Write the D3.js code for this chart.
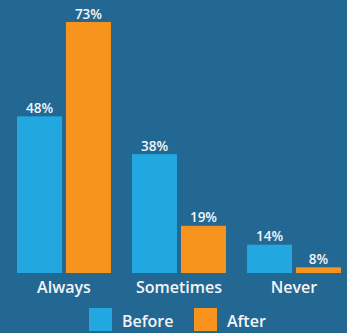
<!DOCTYPE html>
<html>
<head>
<meta charset="utf-8">
<script src="https://cdn.jsdelivr.net/npm/d3@7"></script>
<style>
  html, body { margin: 0; padding: 0; background: #236893; }
  svg { display: block; }
  text { font-family: "Open Sans", sans-serif; fill: #f2f5f8; }
</style>
</head>
<body>
<div id="chart"></div>
<script>
let width = 347, height = 333;

let categories = ["Always", "Sometimes", "Never"];
let series = ["Before", "After"];
let before = [48, 38, 14];
let after = [73, 19, 8];
let colors = ["#22a7e0", "#f7941d"];

let rows = categories.map(function(c, i) {
    return {cat: c, values: [before[i], after[i]]};
});

let svg = d3.select("#chart")
    .append("svg")
    .attr("width", width)
    .attr("height", height);

svg.append("rect")
    .attr("width", width)
    .attr("height", height)
    .attr("fill", "#236893");

let xScale = d3.scaleBand()
    .domain(categories)
    .range([17, 341])
    .paddingInner(0.183)
    .paddingOuter(0);

let xSub = d3.scaleBand()
    .domain(series)
    .range([0, xScale.bandwidth()])
    .paddingInner(0.08);

let yScale = d3.scaleLinear()
    .domain([6.5, 73])
    .range([273, 22]);

let groups = svg.selectAll(".group")
    .data(rows)
    .enter()
    .append("g")
    .attr("class", "group")
    .attr("transform", function(d) { return `translate(${xScale(d.cat)},0)`; });

let cells = groups.selectAll(".cell")
    .data(function(d) {
        return d.values.map(function(v, i) { return {s: series[i], v: v, i: i}; });
    })
    .enter()
    .append("g");

cells.append("rect")
    .attr("x", function(d) { return xSub(d.s); })
    .attr("y", function(d) { return yScale(d.v); })
    .attr("width", xSub.bandwidth())
    .attr("height", function(d) { return yScale.range()[0] - yScale(d.v); })
    .attr("fill", function(d) { return colors[d.i]; });

cells.append("text")
    .attr("x", function(d) { return xSub(d.s) + xSub.bandwidth() / 2; })
    .attr("y", function(d) { return yScale(d.v) - 3.5; })
    .attr("text-anchor", "middle")
    .attr("font-size", 13.5)
    .attr("font-weight", 600)
    .text(function(d) { return d.v + "%"; });

// category labels
svg.selectAll(".catLabel")
    .data(categories)
    .enter()
    .append("text")
    .attr("class", "catLabel")
    .attr("x", function(d) { return xScale(d) + xScale.bandwidth() / 2; })
    .attr("y", 293)
    .attr("text-anchor", "middle")
    .attr("font-size", 16)
    .attr("font-weight", 600)
    .text(function(d) { return d; });

// legend
let legendX = [89, 194];
let legend = svg.selectAll(".legend")
    .data(series)
    .enter()
    .append("g")
    .attr("class", "legend")
    .attr("transform", function(d, i) { return `translate(${legendX[i]},308)`; });

legend.append("rect")
    .attr("width", 23)
    .attr("height", 23)
    .attr("fill", function(d, i) { return colors[i]; });

legend.append("text")
    .attr("x", 33)
    .attr("y", 19)
    .attr("font-size", 16)
    .attr("font-weight", 600)
    .text(function(d) { return d; });
</script>
</body>
</html>
